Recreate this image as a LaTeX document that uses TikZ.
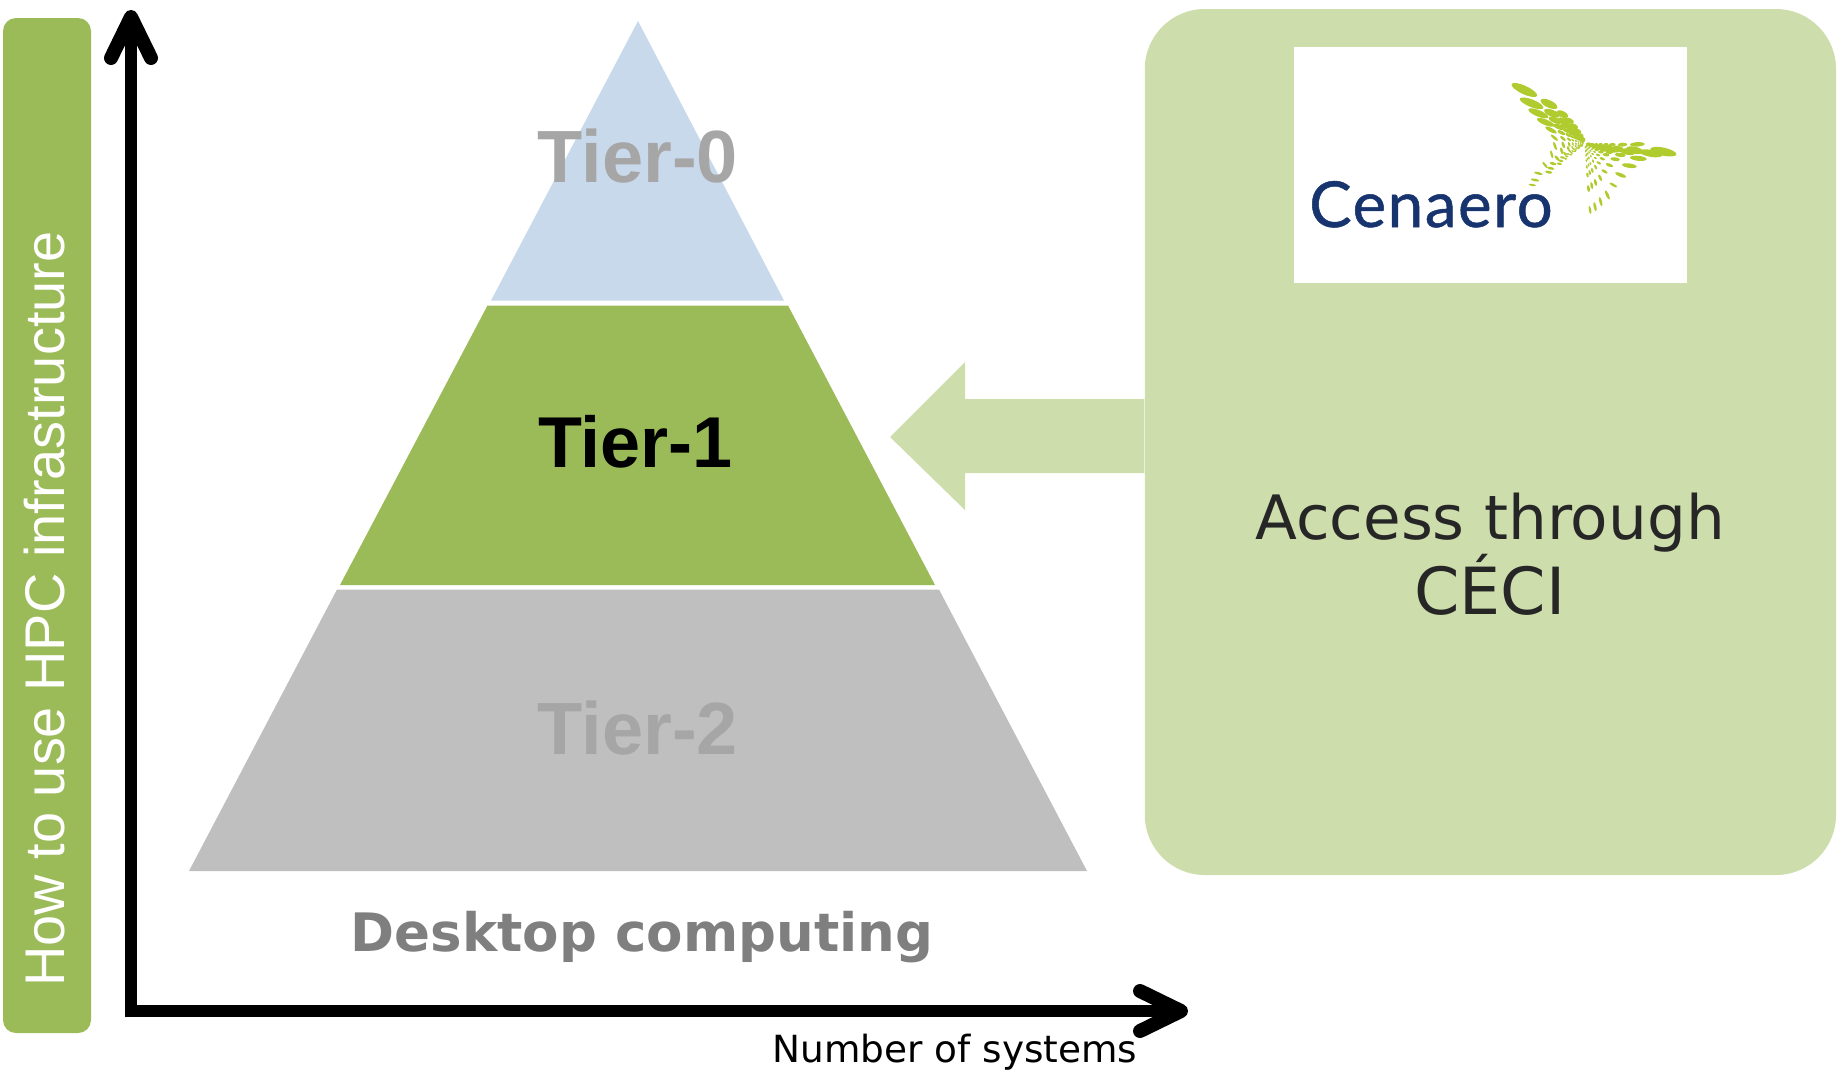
\documentclass[tikz,border=0pt]{standalone}
\usepackage{fontspec}
\usetikzlibrary{arrows.meta,calc}
\setmainfont{Liberation Sans}
\newfontfamily\dejavu{DejaVu Sans}
\newfontfamily\logofont[LetterSpace=2.6,FakeBold=0.8]{Lato}
\definecolor{barGreen}{HTML}{9BBB59}
\definecolor{panelGreen}{HTML}{CDDDAC}
\definecolor{tierBlue}{HTML}{C9D9EC}
\definecolor{tierGray}{HTML}{BFBFBF}
\definecolor{labelGray}{HTML}{A6A6A6}
\definecolor{deskGray}{HTML}{7F7F7F}
\definecolor{inkDark}{HTML}{262626}
\definecolor{logoBlue}{HTML}{17346F}
\definecolor{logoGreen}{HTML}{B0CB2E}
\newcommand{\fsz}[1]{\fontsize{#1}{#1}\selectfont}
% one row of wing dots: outer x/y, control x/y, angle, half length (3x crop coordinates)
\newcommand{\wingrow}[6]{%
  \foreach \t in {0,.3,.5,.62,.72,.8,.87,.93}{
    \pgfmathsetmacro{\px}{1500+((1-\t)*(1-\t)*#1+2*\t*(1-\t)*#3+\t*\t*255)/3}
    \pgfmathsetmacro{\py}{70+((1-\t)*(1-\t)*#2+2*\t*(1-\t)*#4+\t*\t*220)/3}
    \pgfmathsetmacro{\rad}{max(#6,16)/3*(.2+.8*pow(1-\t,1.6))*(\t>0?1:#6/max(#6,16))}
    \pgfmathsetmacro{\rat}{.3+.35*\t}
    \fill[logoGreen,shift={(\px,\py)},rotate=#5] (0,0) ellipse [x radius=\rad,y radius={\rad*\rat}];
  }
}
\tikzset{
  axisline/.style={line width=12pt,line cap=butt,-{Straight Barb[length=41pt,width=40pt,line width=14pt,round]}},
  tierlabel/.style={font=\fsz{74}\bfseries,inner sep=0pt},
}
\begin{document}
\begin{tikzpicture}[x=1pt,y=-1pt]
\useasboundingbox (0,0) rectangle (1841,1071);
% side bar
\fill[barGreen,rounded corners=13pt] (3,18) rectangle (91,1033);
\node[rotate=90,text=white,font=\fsz{55.9},inner sep=0pt] (ylabel) at (45,609) {How to use HPC infrastructure};
% axes
\coordinate (origin) at (131,1011);
\coordinate (ytip) at (131,10);
\coordinate (xtip) at (1188,1011);
\draw[axisline] ([yshift=-6pt]origin) -- (ytip);
\draw[axisline] ([xshift=-6pt]origin) -- (xtip);
% pyramid
\fill[tierBlue] (638,21) -- (784,300.5) -- (491,300.5) -- cycle;
\fill[barGreen] (487.5,305.5) -- (788,305.5) -- (935,585) -- (340,585) -- cycle;
\fill[tierGray] (337,589.5) -- (939,589.5) -- (1087,871) -- (189,871) -- cycle;
\node[tierlabel,text=labelGray] (t0) at (638,156) {Tier-0};
\node[font=\fsz{72}\bfseries,inner sep=0pt,text=black] (t1) at (635.5,442) {Tier-1};
\node[tierlabel,text=labelGray] (t2) at (638,728) {Tier-2};
\node[font=\dejavu\fsz{53}\bfseries,text=deskGray,inner sep=0pt] (desk) at (642,937.5) {Desktop computing};
\node[font=\dejavu\fsz{37.4},text=black,inner sep=0pt] (nsys) at (955,1052) {Number of systems};
% panel
\fill[panelGreen] (890,437) -- (965,362) -- (965,399) -- (1144.3,399) -- (1144.3,473) -- (965,473) -- (965,510) -- cycle;
\fill[panelGreen,rounded corners=60pt] (1144.8,9) rectangle (1836,875);
\node[font=\dejavu\fsz{61.2},text=inkDark,inner sep=0pt] (access) at (1490,523) {Access through};
\node[font=\dejavu\fsz{65},text=inkDark,inner sep=0pt] (ceci) at (1490,584.5) {CÉCI};
% logo
\fill[white] (1294,47) rectangle (1687,283);
\node[font=\logofont\fsz{63.5},text=logoBlue,inner sep=0pt,anchor=base west] (cen) at (1309,227) {Cenaero};
% left wing
\wingrow{73}{60}{210}{125}{-25}{42}
\wingrow{95}{100}{205}{145}{-22}{38}
\wingrow{115}{130}{205}{160}{-22}{32}
\wingrow{137}{157}{205}{175}{-22}{28}
\wingrow{153}{180}{205}{190}{-28}{20}
\wingrow{163}{203}{205}{205}{-40}{14}
\wingrow{165}{228}{205}{222}{-70}{13}
\wingrow{155}{253}{205}{235}{-75}{12}
\wingrow{135}{285}{195}{250}{-50}{12}
\wingrow{115}{310}{190}{260}{-15}{13}
\wingrow{105}{330}{185}{270}{-12}{13}
\wingrow{97}{345}{180}{280}{-10}{11}
% right wing
\wingrow{412}{223}{340}{226}{3}{22}
\wingrow{490}{245}{335}{240}{-12}{40}
\wingrow{452}{250}{330}{245}{-10}{35}
\wingrow{415}{265}{320}{250}{-6}{25}
\wingrow{388}{287}{315}{255}{-8}{22}
\wingrow{362}{315}{305}{265}{-22}{18}
\wingrow{340}{345}{295}{275}{-30}{13}
\wingrow{322}{375}{285}{285}{-65}{15}
\wingrow{302}{395}{275}{295}{-75}{14}
\wingrow{285}{410}{268}{300}{-78}{14}
\wingrow{270}{420}{262}{310}{-80}{12}
\end{tikzpicture}
\end{document}
